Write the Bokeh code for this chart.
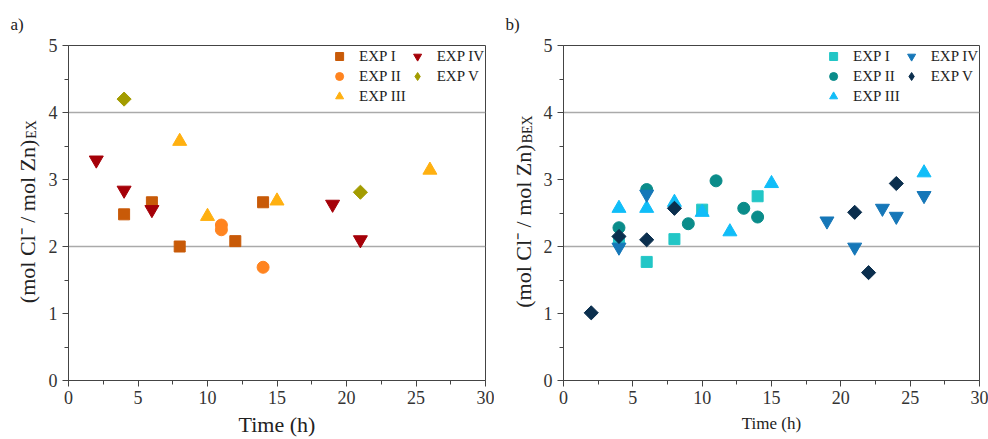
import math
from bokeh.plotting import figure
from bokeh.layouts import row
from bokeh.models import Label, Legend, LegendItem, FixedTicker, Range1d
from bokeh.embed import file_html
from bokeh.resources import INLINE

# ---------------- data ----------------
series_names = ["EXP I", "EXP II", "EXP III", "EXP IV", "EXP V"]
x_ticks = [0, 5, 10, 15, 20, 25, 30]
y_ticks = [0, 1, 2, 3, 4, 5]

# panel a) (mol Cl- / mol Zn)EX
a_exp1_t = [4, 6, 8, 12, 14]
a_exp1_v = [2.48, 2.66, 2.00, 2.08, 2.66]
a_exp2_t = [11, 11, 14]
a_exp2_v = [2.32, 2.25, 1.69]
a_exp3_t = [8, 10, 15, 26]
a_exp3_v = [3.57, 2.45, 2.68, 3.14]
a_exp4_t = [2, 4, 6, 19, 21]
a_exp4_v = [3.29, 2.84, 2.55, 2.63, 2.10]
a_exp5_t = [4, 21]
a_exp5_v = [4.20, 2.81]

# panel b) (mol Cl- / mol Zn)BEX
b_exp1_t = [4, 6, 8, 10, 14]
b_exp1_v = [2.08, 1.77, 2.11, 2.55, 2.75]
b_exp2_t = [4, 6, 9, 11, 13, 14]
b_exp2_v = [2.28, 2.85, 2.34, 2.98, 2.57, 2.44]
b_exp3_t = [4, 6, 8, 10, 12, 15, 26]
b_exp3_v = [2.57, 2.57, 2.66, 2.51, 2.22, 2.94, 3.10]
b_exp4_t = [4, 6, 19, 21, 23, 24, 26]
b_exp4_v = [1.99, 2.78, 2.38, 1.99, 2.57, 2.45, 2.76]
b_exp5_t = [2, 4, 6, 8, 21, 22, 24]
b_exp5_v = [1.01, 2.15, 2.10, 2.57, 2.51, 1.61, 2.94]

# ---------------- style ----------------
FONT = "Liberation Serif"
TXT = "#222222"
markers = ["square", "circle", "triangle", "inverted_triangle", "square"]
legend_markers = ["square", "circle", "triangle", "inverted_triangle", "diamond"]
angles = [0, 0, 0, 0, math.pi / 4]
msizes = [11, 12, 14, 14, 10]
colors_a = ["#C85A08", "#FF8420", "#FFB010", "#A50008", "#A39C00"]
colors_b = ["#22C6C6", "#0A8C8A", "#10BDF8", "#1677B8", "#0B2F4E"]
AXIS_COLOR = "#444444"
STRIP_W = 44
H = 439
TOP = 45
BOTTOM = 59


def make_strip(tag, sub, base_x, tag_x):
    # frame of this strip is aligned with the panel frames: y data = pixels from canvas bottom
    s = figure(width=STRIP_W, height=H, output_backend="svg", toolbar_location=None,
               x_range=Range1d(0, STRIP_W), y_range=Range1d(BOTTOM, H - TOP),
               x_axis_location=None, y_axis_location=None,
               min_border_left=0, min_border_right=0,
               min_border_top=TOP, min_border_bottom=BOTTOM)
    s.outline_line_color = None
    s.grid.visible = False
    s.background_fill_color = "white"
    s.border_fill_color = "white"
    s.title.text = tag
    s.title.align = "left"
    s.title.offset = tag_x
    s.title.standoff = 23
    s.title.text_font = FONT
    s.title.text_font_size = "17px"
    s.title.text_font_style = "normal"
    s.title.text_color = TXT

    main_fs = 22
    small_fs = 14
    main_len = (3.084 + 0.40 + 4.028) * main_fs
    sub_len = (1.333 if sub == "EX" else 2.0) * small_fs
    total = main_len + sub_len
    center = H - (TOP + (H - BOTTOM)) / 2
    anchor = center - total / 2 + main_len
    s.add_layout(Label(x=base_x, y=anchor, text="(mol Cl\u207b / mol Zn)", angle=math.pi / 2,
                       text_font=FONT, text_font_size=f"{main_fs}px", text_color=TXT,
                       text_align="right", text_baseline="alphabetic"))
    s.add_layout(Label(x=base_x + 4, y=anchor + 1, text=sub, angle=math.pi / 2,
                       text_font=FONT, text_font_size=f"{small_fs}px", text_color=TXT,
                       text_align="left", text_baseline="alphabetic"))
    return s


def make_panel(data, colors, width, left_border, xlabel_size, xlabel_standoff):
    p = figure(width=width, height=H, output_backend="svg", toolbar_location=None,
               x_range=Range1d(0, 30), y_range=Range1d(0, 5),
               min_border_left=left_border, min_border_right=9,
               min_border_top=TOP, min_border_bottom=BOTTOM)
    p.background_fill_color = "white"
    p.border_fill_color = "white"
    p.outline_line_color = AXIS_COLOR
    p.outline_line_width = 1

    p.xaxis.ticker = FixedTicker(ticks=x_ticks, minor_ticks=[2.5 + 5 * i for i in range(6)])
    p.yaxis.ticker = FixedTicker(ticks=y_ticks, minor_ticks=[0.5 + i for i in range(5)])
    for ax in (p.xaxis[0], p.yaxis[0]):
        ax.axis_line_color = AXIS_COLOR
        ax.major_tick_line_color = AXIS_COLOR
        ax.minor_tick_line_color = AXIS_COLOR
        ax.major_tick_in = 0
        ax.major_tick_out = 6
        ax.minor_tick_in = 0
        ax.minor_tick_out = 4
        ax.major_label_text_font = FONT
        ax.major_label_text_font_size = "18px"
        ax.major_label_text_color = "#333333"
    p.xaxis.major_label_standoff = 4
    p.yaxis.major_label_standoff = 5
    p.xaxis.axis_label = "Time (h)"
    p.xaxis.axis_label_text_font = FONT
    p.xaxis.axis_label_text_font_size = f"{xlabel_size}px"
    p.xaxis.axis_label_text_font_style = "normal"
    p.xaxis.axis_label_text_color = TXT
    p.xaxis.axis_label_standoff = xlabel_standoff

    p.xgrid.visible = False
    p.ygrid.ticker = FixedTicker(ticks=[2, 4])
    p.ygrid.grid_line_color = "#AAAAAA"
    p.ygrid.grid_line_width = 1.5

    legend_renderers = []
    for (t, v), c, m, lm, s, a in zip(data, colors, markers, legend_markers, msizes, angles):
        if lm != m:
            # same data drawn as a (narrower) diamond underneath the rotated square;
            # it is fully covered on the chart and supplies the diamond legend glyph
            lr = p.scatter(t, v, marker=lm, size=s + 2, fill_color=c, line_color=c)
            p.scatter(t, v, marker=m, size=s, angle=a, fill_color=c, line_color=c)
            legend_renderers.append(lr)
        else:
            r = p.scatter(t, v, marker=m, size=s, angle=a, fill_color=c, line_color=c)
            legend_renderers.append(r)

    items = [LegendItem(label=n, renderers=[r]) for n, r in zip(series_names, legend_renderers)]
    leg = Legend(items=items, location="top_right", orientation="vertical", nrows=3,
                 label_text_font=FONT, label_text_font_size="15px",
                 label_text_color=TXT,
                 border_line_alpha=0, background_fill_alpha=0,
                 padding=1, margin=0, spacing=0,
                 label_height=20, glyph_height=20, glyph_width=22,
                 label_standoff=9)
    p.add_layout(leg, "center")
    return p


data_a = [(a_exp1_t, a_exp1_v), (a_exp2_t, a_exp2_v), (a_exp3_t, a_exp3_v),
          (a_exp4_t, a_exp4_v), (a_exp5_t, a_exp5_v)]
data_b = [(b_exp1_t, b_exp1_v), (b_exp2_t, b_exp2_v), (b_exp3_t, b_exp3_v),
          (b_exp4_t, b_exp4_v), (b_exp5_t, b_exp5_v)]

sa = make_strip("a)", "EX", 27, 10)
pa = make_panel(data_a, colors_a, 494 - STRIP_W, 68 - STRIP_W, 22, 5)
sb = make_strip("b)", "BEX", 29, 11)
pb = make_panel(data_b, colors_b, 494 - STRIP_W, 563 - 494 - STRIP_W, 17, 7)

layout = row(sa, pa, sb, pb)
open("out.html", "w").write(file_html(layout, INLINE))
